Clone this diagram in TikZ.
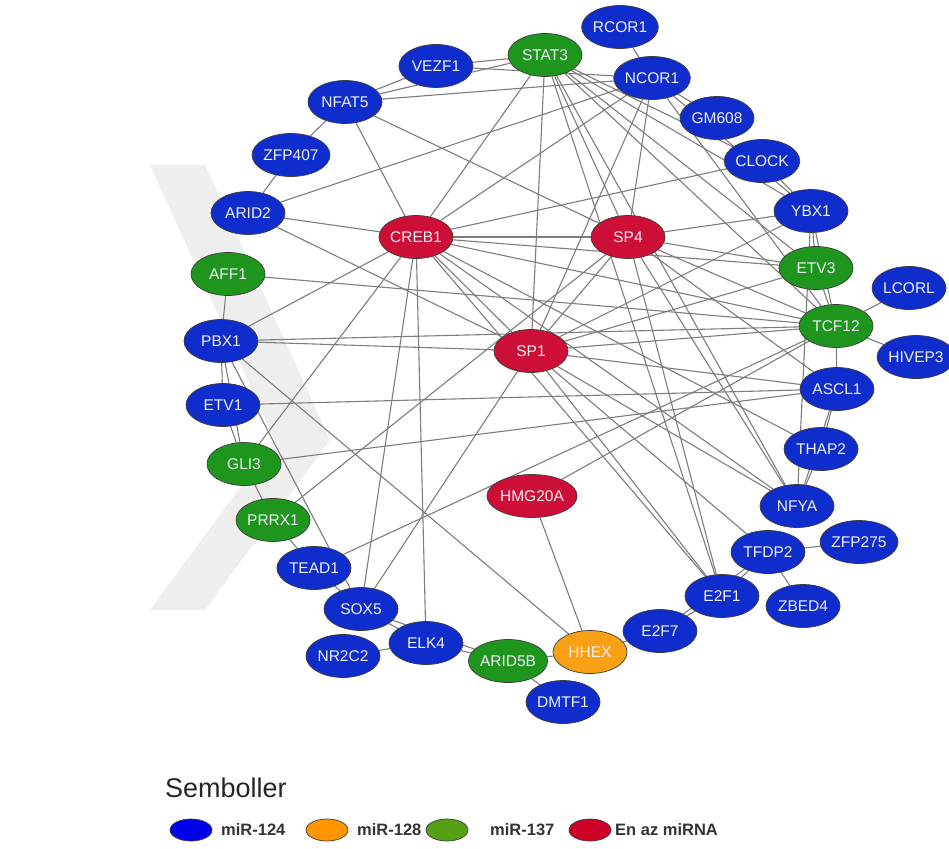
\documentclass[tikz,border=0pt]{standalone}
\usepackage{fontspec}
\setmainfont{Liberation Sans}
\usetikzlibrary{shapes.geometric,backgrounds}
\definecolor{blueN}{RGB}{15,45,205}
\definecolor{redN}{RGB}{205,15,55}
\definecolor{greenN}{RGB}{30,150,30}
\definecolor{orangeN}{RGB}{250,160,20}
\definecolor{blueL}{RGB}{0,0,235}
\definecolor{redL}{RGB}{205,0,40}
\definecolor{greenL}{RGB}{85,160,20}
\definecolor{orangeL}{RGB}{255,150,0}
\definecolor{edgeC}{RGB}{125,125,125}
\definecolor{rimC}{RGB}{60,60,60}
\definecolor{markC}{RGB}{238,238,238}
\definecolor{labC}{RGB}{238,238,245}
\begin{document}
\begin{tikzpicture}[x=1pt,y=-1pt,
  nd/.style={ellipse, draw=rimC, line width=0.7pt, minimum width=74pt, minimum height=43pt, inner sep=0pt, font=\fontsize{15.5}{16}\selectfont, text=labC},
  bl/.style={nd, fill=blueN},
  rd/.style={nd, fill=redN},
  gr/.style={nd, fill=greenN},
  og/.style={nd, fill=orangeN},
  ed/.style={draw=edgeC, line width=1.1pt},
  lg/.style={ellipse, draw=rimC, line width=0.7pt, minimum width=42pt, minimum height=22pt, inner sep=0pt},
  lt/.style={anchor=west, inner sep=0pt, font=\fontsize{16.5}{17}\bfseries\selectfont, text=black!80}]
\useasboundingbox (0,0) rectangle (949,848);
% nodes
\node[bl] (RCOR1) at (620,27) {RCOR1};
\node[gr] (STAT3) at (545,55) {STAT3};
\node[bl] (VEZF1) at (436,66) {VEZF1};
\node[bl] (NCOR1) at (652,78) {NCOR1};
\node[bl] (NFAT5) at (345,102) {NFAT5};
\node[bl] (GM608) at (717,118) {GM608};
\node[bl] (CLOCK) at (762,161) {CLOCK};
\node[bl] (ZFP407) at (291,155) {ZFP407};
\node[bl] (ARID2) at (248,213) {ARID2};
\node[bl] (YBX1) at (811,211) {YBX1};
\node[rd] (CREB1) at (416,237) {CREB1};
\node[rd] (SP4) at (628,237) {SP4};
\node[gr] (AFF1) at (228,274) {AFF1};
\node[gr] (ETV3) at (816,268) {ETV3};
\node[bl] (LCORL) at (909,288) {LCORL};
\node[gr] (TCF12) at (836,326) {TCF12};
\node[bl] (HIVEP3) at (916,357) {HIVEP3};
\node[bl] (PBX1) at (221,341) {PBX1};
\node[rd] (SP1) at (531,351) {SP1};
\node[bl] (ASCL1) at (837,389) {ASCL1};
\node[bl] (ETV1) at (223,405) {ETV1};
\node[bl] (THAP2) at (821,449) {THAP2};
\node[gr] (GLI3) at (244,464) {GLI3};
\node[rd] (HMG20A) at (532,496) {HMG20A};
\node[bl] (NFYA) at (797,506) {NFYA};
\node[gr] (PRRX1) at (273,520) {PRRX1};
\node[bl] (TFDP2) at (768,552) {TFDP2};
\node[bl] (ZFP275) at (859,542) {ZFP275};
\node[bl] (TEAD1) at (314,568) {TEAD1};
\node[bl] (E2F1) at (722,596) {E2F1};
\node[bl] (ZBED4) at (803,606) {ZBED4};
\node[bl] (SOX5) at (361,609) {SOX5};
\node[bl] (E2F7) at (660,631) {E2F7};
\node[bl] (ELK4) at (426,643) {ELK4};
\node[bl] (NR2C2) at (343,656) {NR2C2};
\node[gr] (ARID5B) at (508,661) {ARID5B};
\node[og] (HHEX) at (590,652) {HHEX};
\node[bl] (DMTF1) at (563,702) {DMTF1};
% edges and backdrop
\begin{pgfonlayer}{background}
\fill[white] (0,0) rectangle (949,848);
\fill[markC] (150,165) -- (205,165) -- (330,440) -- (205,610) -- (150,610) -- (275,440) -- cycle;
\foreach \a/\b in {RCOR1/NCOR1, NCOR1/GM608, VEZF1/NFAT5, NFAT5/ZFP407, ZFP407/ARID2,
  AFF1/PBX1, PBX1/ETV1, ETV1/GLI3, PBX1/GLI3, GLI3/PRRX1, PRRX1/TEAD1, TEAD1/SOX5,
  SOX5/ELK4, NR2C2/ELK4, ELK4/ARID5B, SOX5/ARID5B, ARID5B/HHEX, ARID5B/DMTF1,
  HHEX/E2F7, E2F7/E2F1, E2F1/TFDP2, E2F7/TFDP2, TFDP2/ZFP275, TFDP2/ZBED4,
  THAP2/NFYA, YBX1/NFYA, ASCL1/THAP2, TCF12/ASCL1, TCF12/LCORL, TCF12/HIVEP3,
  ETV3/TCF12, YBX1/ETV3, YBX1/TCF12, HMG20A/HHEX, CLOCK/YBX1, ASCL1/NFYA,
  STAT3/VEZF1, STAT3/NFAT5, STAT3/CREB1, STAT3/SP1, STAT3/SP4, STAT3/CLOCK,
  STAT3/YBX1, STAT3/ETV3, STAT3/TCF12, STAT3/NFYA, STAT3/E2F1,
  NCOR1/VEZF1, NCOR1/NFAT5, NCOR1/ARID2, NCOR1/CREB1, NCOR1/SP1, NCOR1/SP4,
  NCOR1/YBX1, NCOR1/TCF12, NFAT5/SP4, NFAT5/CREB1,
  CREB1/ARID2, CREB1/CLOCK, CREB1/SP4, CREB1/ETV3, CREB1/TCF12, CREB1/THAP2,
  CREB1/SP1, CREB1/NFYA, CREB1/E2F1, CREB1/PBX1, CREB1/GLI3, CREB1/SOX5, CREB1/ELK4,
  SP4/SP1, SP4/YBX1, SP4/ETV3, SP4/TCF12, SP4/NFYA, SP4/E2F1, SP4/ASCL1, SP4/PRRX1,
  SP1/ARID2, SP1/PBX1, SP1/YBX1, SP1/ETV3, SP1/TCF12, SP1/ASCL1, SP1/NFYA,
  SP1/E2F1, SP1/SOX5, SP1/TFDP2,
  AFF1/TCF12, PBX1/TCF12, PBX1/HHEX, PBX1/SOX5, ETV1/ASCL1, GLI3/ASCL1,
  TEAD1/TCF12, HMG20A/TCF12}
  \draw[ed] (\a) -- (\b);
\end{pgfonlayer}
% legend
\node[anchor=base west, inner sep=0pt, font=\fontsize{27}{28}\selectfont, text=black!85] (title) at (165,797) {Semboller};
\node[lg, fill=blueL] (k1) at (191,830) {};
\node[lt] (t1) at (221,830) {miR-124};
\node[lg, fill=orangeL] (k2) at (327,830) {};
\node[lt] (t2) at (357,830) {miR-128};
\node[lg, fill=greenL] (k3) at (447,830) {};
\node[lt] (t3) at (490,830) {miR-137};
\node[lg, fill=redL] (k4) at (590,830) {};
\node[lt] (t4) at (615,830) {En az miRNA};
\end{tikzpicture}
\end{document}
